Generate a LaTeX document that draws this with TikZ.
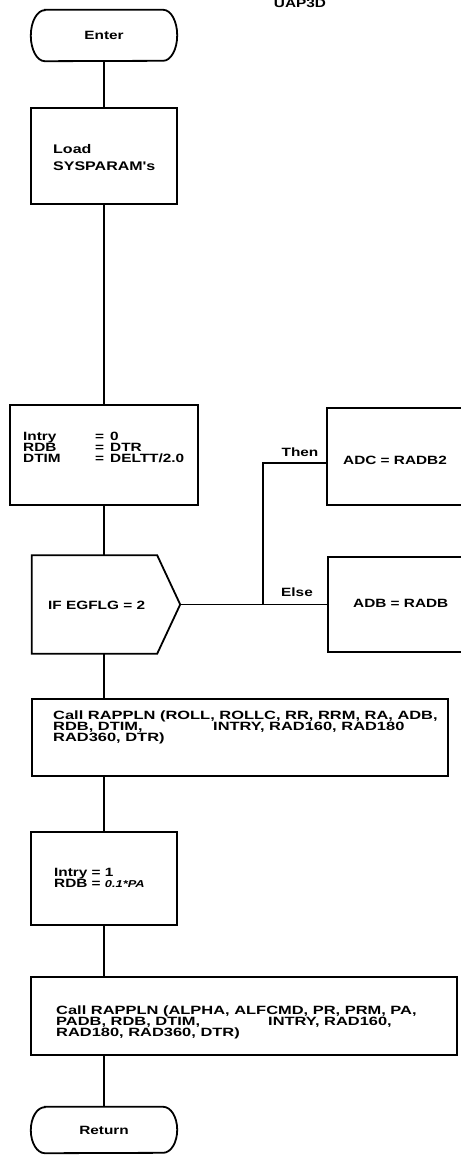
\documentclass[tikz,border=0pt]{standalone}
\usepackage{fontspec}
\newfontfamily\flowfont{Liberation Sans}[FakeStretch=1.28]
\newfontfamily\callfont{Liberation Sans}[FakeStretch=1.37]
\usetikzlibrary{calc}
\begin{document}
\begin{tikzpicture}[x=1pt,y=-1pt,
  every node/.style={font=\flowfont\bfseries\fontsize{12}{11}\selectfont},
  conn/.style={line width=1.8pt},
  box/.style={draw, line width=1.8pt, rectangle, inner sep=0pt},
  shell/.style={rectangle, inner sep=0pt},
  txt/.style={inner sep=0pt, align=left, anchor=west},
  calltxt/.style={txt, font=\callfont\bfseries\fontsize{12}{11}\selectfont}]
\useasboundingbox (0,0) rectangle (460,1155);

% title
\node (title) at (300,3.5) {UAP3D};

% Enter terminal
\node[shell, minimum width=146pt, minimum height=51pt] (enter) at (104,35.5) {Enter};
\draw[conn] ($(enter.north west)+(14,0)$) -- ($(enter.north east)+(-14,0)$)
  arc[start angle=90, end angle=-90, x radius=14pt, y radius=25.5pt]
  -- ($(enter.south west)+(14,0)$)
  arc[start angle=270, end angle=90, x radius=14pt, y radius=25.5pt] -- cycle;

% Load box
\node[box, minimum width=146pt, minimum height=96pt] (load) at (104,156) {};
\node[txt, font=\flowfont\bfseries\fontsize{12.5}{17}\selectfont] (loadtxt) at (53,158) {Load\\SYSPARAM's};

% Init box
\node[box, minimum width=188pt, minimum height=100pt] (init) at (104,455) {};
\node[txt] (inittxt) at (23,447) {\makebox[72pt][l]{Intry}\makebox[15pt][l]{=}0\\
\makebox[72pt][l]{RDB}\makebox[15pt][l]{=}DTR\\
\makebox[72pt][l]{DTIM}\makebox[15pt][l]{=}DELTT/2.0};

% Decision
\node[shell, minimum width=148pt, minimum height=98pt] (dec) at (106,604.5) {};
\draw[conn] (dec.north west) -- ($(dec.north east)+(-23,0)$) -- (dec.east)
  -- ($(dec.south east)+(-23,0)$) -- (dec.south west) -- cycle;
\node[txt] (dectxt) at (48,605) {IF EGFLG = 2};

% Then / Else boxes
\node[box, minimum width=150pt, minimum height=97pt] (thenbox) at (402,456.5) {};
\node[txt] (thentxt) at (343,460) {ADC = RADB2};
\node[box, minimum width=150pt, minimum height=95pt] (elsebox) at (403,604.5) {};
\node[txt] (elsetxt) at (353,603) {ADB = RADB};

% Call 1
\node[box, minimum width=416pt, minimum height=77pt] (call1) at (240,737.5) {};
\node[calltxt] (call1txt) at (53,727) {Call RAPPLN (ROLL, ROLLC, RR, RRM, RA, ADB,\\
\makebox[160pt][l]{RDB, DTIM,}INTRY, RAD160, RAD180\\
RAD360, DTR)};

% Intry = 1
\node[box, minimum width=146pt, minimum height=93pt] (int1) at (104,878.5) {};
\node[txt] (int1txt) at (54,878) {Intry = 1\\RDB = {\itshape\fontsize{10}{11}\selectfont 0.1*PA}};

% Call 2
\node[box, minimum width=426pt, minimum height=78pt] (call2) at (244,1016) {};
\node[calltxt] (call2txt) at (56,1022) {Call RAPPLN (ALPHA, ALFCMD, PR, PRM, PA,\\
\makebox[212pt][l]{PADB, RDB, DTIM,}INTRY, RAD160,\\
RAD180, RAD360, DTR)};

% Return terminal
\node[shell, minimum width=146pt, minimum height=46pt] (ret) at (104,1130) {Return};
\draw[conn] ($(ret.north west)+(14,0)$) -- ($(ret.north east)+(-14,0)$)
  arc[start angle=90, end angle=-90, x radius=14pt, y radius=23pt]
  -- ($(ret.south west)+(14,0)$)
  arc[start angle=270, end angle=90, x radius=14pt, y radius=23pt] -- cycle;

% trunk connectors
\draw[conn] (enter.south) -- (load.north);
\draw[conn] (load.south) -- (init.north);
\draw[conn] (init.south) -- (init.south |- dec.north);
\draw[conn] (init.south |- dec.south) -- (init.south |- call1.north);
\draw[conn] (init.south |- call1.south) -- (int1.north);
\draw[conn] (int1.south) -- (int1.south |- call2.north);
\draw[conn] (int1.south |- call2.south) -- (ret.north);

% branch connectors
\draw[conn] (dec.east) -- (dec.east -| elsebox.west);
\path (dec.east) ++(83,0) coordinate (br);
\coordinate (thenin) at ($(thenbox.west)+(0,6.5)$);
\draw[conn] (br) |- (thenin);
\node (thenlbl) at (300,452) {Then};
\node (elselbl) at (297,592) {Else};
\end{tikzpicture}
\end{document}
